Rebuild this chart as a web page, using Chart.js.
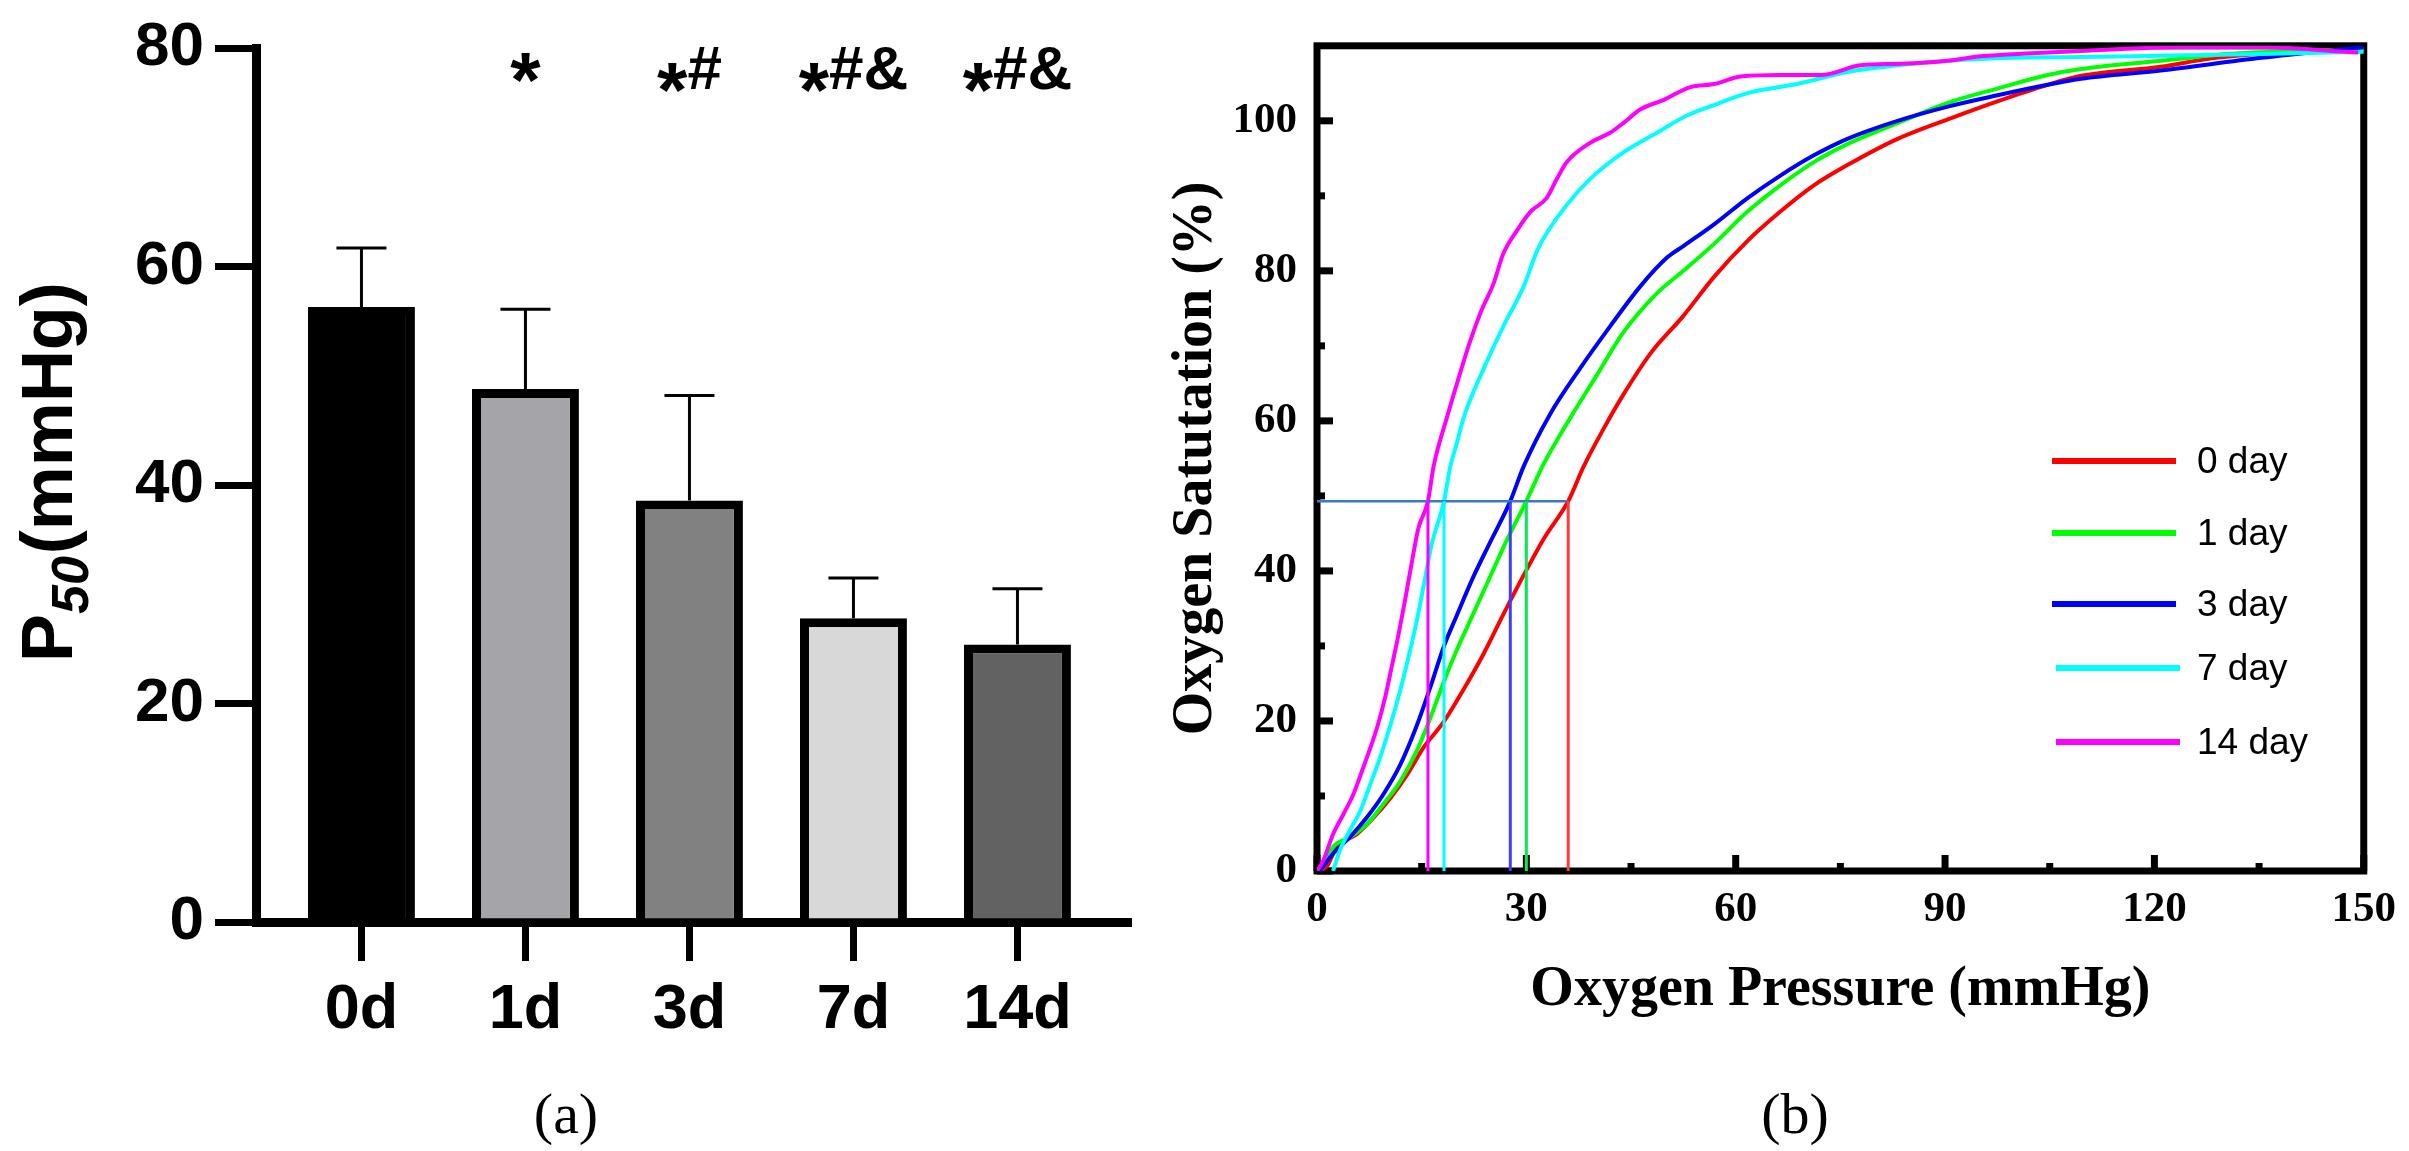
<!DOCTYPE html>
<html>
<head>
<meta charset="utf-8">
<title>P50 and oxygen dissociation curves</title>
<script src="https://cdn.jsdelivr.net/npm/chart.js@4.4.1/dist/chart.umd.min.js"></script>
<style>
    html, body { margin: 0; padding: 0; background: #fff; }
    body { width: 2409px; height: 1151px; position: relative; overflow: hidden; }
    .panel { position: absolute; top: 0; height: 1151px; }
    #panelA { left: 0; width: 1150px; }
    #panelB { left: 1150px; width: 1259px; }
    .caption {
        position: absolute; top: 1085px; line-height: 58px;
        font-family: "Liberation Serif", serif; font-size: 58px; color: #000;
        transform: translateX(-50%);
    }
</style>
</head>
<body>
<div class="panel" id="panelA"><canvas id="p50Chart"></canvas></div>
<div class="panel" id="panelB"><canvas id="odcChart"></canvas></div>
<div class="caption" style="left:566px">(a)</div>
<div class="caption" style="left:1795px">(b)</div>

<script>
/**
 * Panel (a): P50 per storage day
 */
const CATEGORIES = ['0d', '1d', '3d', '7d', '14d'];
const P50_MEAN = [56.3, 48.8, 38.6, 27.8, 25.4];
const P50_SD = [5.4, 7.3, 9.6, 3.7, 5.1];
const SIG_MARKS = ['', '*', '*#', '*#&', '*#&'];
const BAR_COLORS = ['#000000', '#a5a5a9', '#818181', '#d8d8d8', '#626262'];
const P50_TICKS = [0, 20, 40, 60, 80];

/**
 * Panel (b): oxygen dissociation curves
 */
const SERIES_LABELS = ['0 day', '1 day', '3 day', '7 day', '14 day'];
const SERIES_COLORS = ['#ff0000', '#00ff00', '#0000ff', '#00ffff', '#ff00ff'];

const DAY0_PO2 = [0, 1.4, 2.8, 5.7, 8.1, 10.5, 12.9, 15.3, 18.1, 21.0, 23.9, 26.7, 29.6, 32.5, 36.0, 38.2, 41.1, 43.9, 47.8, 52.5, 56.9, 61.7, 66.4, 71.2, 76.0, 83.2, 90.4, 97.5, 104.7, 109.5, 120.9, 128.0, 140.0, 150.0];
const DAY0_SAT = [0, 0.6, 3.2, 4.9, 7.1, 9.7, 12.8, 16.5, 19.8, 24.2, 29.0, 34.2, 39.4, 44.3, 49.3, 53.9, 59.0, 63.5, 69.0, 74.0, 79.2, 84.0, 87.9, 91.4, 94.1, 97.6, 100.2, 102.6, 104.8, 106.0, 107.2, 108.3, 109.2, 109.5];

const DAY1_PO2 = [0, 0.9, 2.3, 4.7, 7.1, 9.5, 11.9, 14.3, 16.2, 18.2, 20.0, 22.4, 24.8, 27.2, 30.0, 32.5, 36.3, 40.1, 43.9, 48.7, 52.5, 56.9, 61.7, 66.4, 71.2, 76.0, 83.2, 90.4, 97.5, 104.7, 109.5, 120.9, 130.4, 140.0, 150.0];
const DAY1_SAT = [0, 0.6, 3.2, 4.5, 6.2, 8.9, 11.9, 16.0, 20.3, 25.3, 29.4, 34.3, 39.2, 44.1, 49.3, 54.3, 60.4, 66.1, 71.8, 77.0, 80.0, 83.6, 87.9, 91.4, 94.5, 96.9, 99.7, 102.4, 104.3, 106.1, 106.9, 108.0, 108.9, 109.3, 109.5];

const DAY3_PO2 = [0.4, 2.3, 4.7, 7.1, 9.5, 11.9, 14.3, 16.2, 18.2, 20.0, 22.4, 24.8, 27.7, 29.6, 33.4, 37.7, 42.0, 46.3, 50.2, 52.5, 56.9, 61.7, 66.4, 71.2, 76.0, 83.2, 90.4, 97.5, 104.7, 109.5, 120.9, 135.3, 150.0];
const DAY3_SAT = [0, 2.3, 4.5, 7.1, 10.2, 14.1, 19.4, 24.4, 30.0, 34.0, 39.2, 43.8, 49.3, 53.9, 60.9, 67.0, 72.6, 77.9, 81.8, 83.3, 86.2, 89.7, 92.7, 95.4, 97.6, 100.0, 101.9, 103.4, 104.8, 105.6, 106.7, 108.4, 109.8];

const DAY7_PO2 = [2.3, 3.3, 4.7, 6.2, 7.6, 9.0, 10.5, 11.7, 12.9, 14.1, 15.3, 16.4, 18.2, 19.1, 20.0, 21.0, 23.9, 26.7, 29.6, 31.7, 35.8, 39.2, 43.9, 48.7, 52.8, 56.9, 61.7, 68.8, 76.0, 83.2, 90.4, 99.9, 109.5, 122.0, 135.3, 150.0];
const DAY7_SAT = [0, 2.8, 5.4, 8.0, 11.5, 15.0, 19.4, 23.3, 27.7, 32.5, 38.1, 43.4, 49.3, 53.9, 56.9, 60.4, 67.0, 72.6, 77.9, 83.0, 88.8, 92.3, 95.8, 98.4, 100.6, 102.1, 103.7, 104.9, 106.5, 107.4, 108.0, 108.4, 108.5, 108.7, 108.9, 109.2];

const DAY14_PO2 = [0, 0.9, 2.3, 3.8, 5.2, 6.4, 7.6, 8.7, 9.8, 10.7, 11.7, 12.6, 13.6, 14.5, 15.9, 16.7, 18.6, 20.0, 21.9, 23.6, 25.3, 26.7, 28.6, 30.6, 32.9, 34.4, 35.8, 39.2, 42.0, 43.9, 46.3, 49.7, 53.5, 56.9, 60.7, 66.4, 72.2, 77.9, 83.6, 90.4, 95.1, 102.3, 109.5, 123.3, 135.3, 149.2];
const DAY14_SAT = [0, 1.4, 4.9, 7.6, 10.2, 13.2, 16.3, 19.4, 23.3, 27.2, 31.6, 36.0, 41.2, 45.6, 49.3, 53.9, 60.4, 64.8, 70.5, 74.8, 78.3, 82.3, 85.3, 87.9, 89.7, 92.3, 94.5, 97.1, 98.4, 99.7, 101.5, 102.8, 104.5, 104.9, 105.9, 106.1, 106.1, 107.4, 107.6, 108.0, 108.6, 109.0, 109.3, 109.8, 109.8, 109.1];

// P50 read-outs (same order as SERIES_LABELS) and the 50% guide line
const P50_VALUES = [36.0, 30.0, 27.7, 18.2, 15.9];
const P50_LINE_COLORS = ['#ff3b3b', '#00ee55', '#3d3dff', '#00ffff', '#ff00ff'];
const HALF_SAT = 49.3;

const PO2_TICKS = [0, 30, 60, 90, 120, 150];
const PO2_MINOR = [15, 45, 75, 105, 135];
const SAT_TICKS = [0, 20, 40, 60, 80, 100];
const SAT_MINOR = [10, 30, 50, 70, 90];

const SANS = '"Liberation Sans", Arial, sans-serif';
const SERIF = '"Liberation Serif", "Times New Roman", serif';

Chart.defaults.color = '#000';
Chart.defaults.font.family = SANS;

function toPoints(xs, ys) {
    return xs.map((v, i) => ({ x: v, y: ys[i] }));
}

// ---------- panel (a) plugins ----------
const barExtras = {
    id: 'barExtras',
    afterDatasetsDraw(chart) {
        const { ctx, scales: { x, y } } = chart;
        ctx.save();
        // upper error bars
        ctx.strokeStyle = '#000';
        ctx.lineWidth = 3;
        P50_MEAN.forEach((m, i) => {
            const px = x.getPixelForValue(i);
            const top = y.getPixelForValue(m + P50_SD[i]);
            ctx.beginPath();
            ctx.moveTo(px, y.getPixelForValue(m));
            ctx.lineTo(px, top);
            ctx.moveTo(px - 25, top);
            ctx.lineTo(px + 25, top);
            ctx.stroke();
        });
        // significance marks (the asterisk sits low, like the original font)
        ctx.fillStyle = '#000';
        ctx.textBaseline = 'alphabetic';
        const base = y.getPixelForValue(76.3);
        const fontFor = c => (c === '*' ? `bold 78px ${SANS}` : `bold 62px ${SANS}`);
        SIG_MARKS.forEach((mark, i) => {
            if (!mark) return;
            const parts = mark.split('').map(c => {
                ctx.font = fontFor(c);
                return { c, w: ctx.measureText(c).width };
            });
            const drop = mark.length === 1 ? 18 : 28;
            let cx = x.getPixelForValue(i) - parts.reduce((s, p) => s + p.w, 0) / 2;
            parts.forEach(p => {
                ctx.font = fontFor(p.c);
                ctx.fillText(p.c, cx, base + (p.c === '*' ? drop : 0));
                cx += p.w;
            });
        });
        ctx.restore();
    },
    afterDraw(chart) {
        // y title with subscript: P50(mmHg)
        const { ctx } = chart;
        ctx.save();
        ctx.translate(72, 662);
        ctx.rotate(-Math.PI / 2);
        ctx.fillStyle = '#000';
        ctx.textBaseline = 'alphabetic';
        ctx.font = `bold 72px ${SANS}`;
        ctx.fillText('P', 0, 0);
        let w = ctx.measureText('P').width;
        ctx.font = `italic bold 52px ${SANS}`;
        ctx.fillText('50', w, 16);
        w += ctx.measureText('50').width;
        ctx.font = `bold 72px ${SANS}`;
        ctx.fillText('(mmHg)', w + 2, 0);
        ctx.restore();
    }
};

new Chart(document.getElementById('p50Chart'), {
    type: 'bar',
    data: {
        datasets: [{
            data: CATEGORIES.map((c, i) => ({ x: i, y: P50_MEAN[i] })),
            backgroundColor: BAR_COLORS,
            borderColor: '#000',
            borderWidth: 9,
            borderSkipped: 'start',
            barPercentage: 0.652,
            categoryPercentage: 1
        }]
    },
    options: {
        responsive: true,
        maintainAspectRatio: false,
        animation: false,
        layout: { padding: { top: 41, right: 22, left: 0, bottom: 0 } },
        plugins: { legend: { display: false }, tooltip: { enabled: false } },
        scales: {
            x: {
                type: 'linear',
                offset: false,
                min: -0.643,
                max: 4.674,
                afterFit: s => { s.height = 229; },
                afterBuildTicks: s => { s.ticks = CATEGORIES.map((c, i) => ({ value: i })); },
                ticks: {
                    callback: v => CATEGORIES[v],
                    autoSkip: false,
                    maxRotation: 0,
                    padding: 12,
                    font: { family: SANS, size: 63, weight: 'bold' }
                },
                grid: { offset: false, drawOnChartArea: false, drawTicks: true, tickLength: 39, lineWidth: 7, color: '#000' },
                border: { display: true, width: 9, color: '#000' }
            },
            y: {
                min: 0,
                max: 80,
                afterFit: s => { s.width = 256; },
                afterBuildTicks: s => { s.ticks = P50_TICKS.map(v => ({ value: v })); },
                ticks: { padding: 11, font: { family: SANS, size: 62, weight: 'bold' } },
                grid: { drawOnChartArea: false, drawTicks: true, tickLength: 41, lineWidth: 7, color: '#000' },
                border: { display: true, width: 9, color: '#000' }
            }
        }
    },
    plugins: [barExtras]
});

// ---------- panel (b) plugins ----------
const frameTicks = {
    id: 'frameTicks',
    beforeDatasetsDraw(chart) {
        const { ctx, chartArea: a, scales: { x, y } } = chart;
        ctx.save();
        ctx.strokeStyle = '#000';
        ctx.lineWidth = 7;
        ctx.strokeRect(a.left, a.top, a.right - a.left, a.bottom - a.top);
        const tick = (px, py, dx, dy) => {
            ctx.beginPath();
            ctx.moveTo(px, py);
            ctx.lineTo(px + dx, py + dy);
            ctx.stroke();
        };
        // inward ticks on bottom and left only
        PO2_TICKS.forEach(v => tick(x.getPixelForValue(v), a.bottom, 0, -16));
        PO2_MINOR.forEach(v => tick(x.getPixelForValue(v), a.bottom, 0, -8));
        SAT_TICKS.forEach(v => tick(a.left, y.getPixelForValue(v), 16, 0));
        SAT_MINOR.forEach(v => tick(a.left, y.getPixelForValue(v), 8, 0));
        ctx.restore();
    }
};

const curveLegend = {
    id: 'curveLegend',
    afterDraw(chart) {
        const { ctx } = chart;
        const rows = [461, 533, 604, 668, 742];
        ctx.save();
        ctx.font = `37px ${SANS}`;
        ctx.textBaseline = 'middle';
        ctx.fillStyle = '#000';
        ctx.lineWidth = 6;
        chart.data.datasets.filter(d => d.inLegend).forEach((d, i) => {
            const shift = i > 2 ? 4 : 0;
            ctx.strokeStyle = d.borderColor;
            ctx.beginPath();
            ctx.moveTo(902 + shift, rows[i]);
            ctx.lineTo(1026 + shift, rows[i]);
            ctx.stroke();
            ctx.fillText(d.label, 1047, rows[i] + 2);
        });
        ctx.restore();
    }
};

const CURVES = [
    [DAY0_PO2, DAY0_SAT],
    [DAY1_PO2, DAY1_SAT],
    [DAY3_PO2, DAY3_SAT],
    [DAY7_PO2, DAY7_SAT],
    [DAY14_PO2, DAY14_SAT]
];

const curveSets = CURVES.map(([xs, ys], i) => ({
    label: SERIES_LABELS[i],
    inLegend: true,
    data: toPoints(xs, ys),
    borderColor: SERIES_COLORS[i],
    borderWidth: 4,
    cubicInterpolationMode: 'monotone',
    order: 5 - i
}));

const markerSets = P50_VALUES.map((p, i) => ({
    label: 'P50 ' + SERIES_LABELS[i],
    data: [{ x: p, y: 0 }, { x: p, y: HALF_SAT }],
    borderColor: P50_LINE_COLORS[i],
    borderWidth: 3,
    order: 0
}));

markerSets.push({
    label: '50% saturation',
    data: [{ x: 0, y: HALF_SAT }, { x: Math.max(...P50_VALUES), y: HALF_SAT }],
    borderColor: '#3b78c8',
    borderWidth: 2.5,
    order: 0
});

new Chart(document.getElementById('odcChart'), {
    type: 'line',
    data: { datasets: [...curveSets, ...markerSets] },
    options: {
        responsive: true,
        maintainAspectRatio: false,
        animation: false,
        layout: { padding: { top: 30, right: 45, left: 0, bottom: 0 } },
        plugins: { legend: { display: false }, tooltip: { enabled: false } },
        elements: { point: { radius: 0 } },
        scales: {
            x: {
                type: 'linear',
                min: 0,
                max: 150,
                afterFit: s => { s.height = 280; },
                afterBuildTicks: s => { s.ticks = PO2_TICKS.map(v => ({ value: v })); },
                ticks: { padding: 13, maxRotation: 0, font: { family: SERIF, size: 43, weight: 'bold' } },
                grid: { display: false, drawTicks: false },
                border: { display: false },
                title: {
                    display: true,
                    text: 'Oxygen Pressure (mmHg)',
                    font: { family: SERIF, size: 56, weight: 'bold' },
                    padding: { top: 0, bottom: 127 }
                }
            },
            y: {
                type: 'linear',
                min: 0,
                max: 110,
                afterFit: s => { s.width = 167; },
                afterBuildTicks: s => { s.ticks = SAT_TICKS.map(v => ({ value: v })); },
                ticks: { padding: 20, font: { family: SERIF, size: 43, weight: 'bold' } },
                grid: { display: false, drawTicks: false },
                border: { display: false },
                title: {
                    display: true,
                    text: 'Oxygen Satutation (%)',
                    font: { family: SERIF, size: 56, weight: 'bold' },
                    padding: { top: 13, bottom: 0 }
                }
            }
        }
    },
    plugins: [frameTicks, curveLegend]
});
</script>
</body>
</html>
